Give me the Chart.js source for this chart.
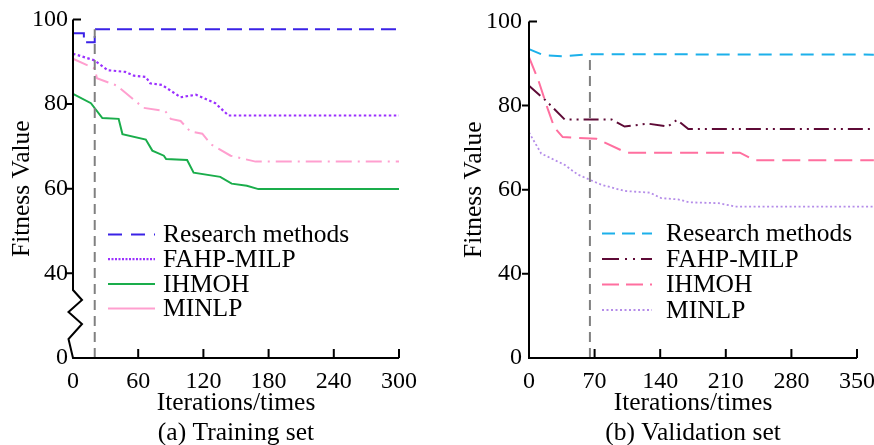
<!DOCTYPE html>
<html>
<head>
<meta charset="utf-8">
<script src="https://cdn.jsdelivr.net/npm/chart.js@4.4.1/dist/chart.umd.min.js"></script>
<style>
  html, body { margin: 0; padding: 0; background: #fff; overflow: hidden; }
  #wrap { position: relative; width: 874px; height: 445px; overflow: hidden; }
  canvas { position: absolute; top: 0; }
</style>
</head>
<body>
<div id="wrap">
  <canvas id="train" width="437" height="448" style="left:0"></canvas>
  <canvas id="valid" width="437" height="448" style="left:437px"></canvas>
</div>
<script>
// --- DATA: (a) Training set ---
const trainResearchX = [0, 10, 10, 20, 20, 300];
const trainResearchY = [96.7, 96.7, 94.6, 94.6, 97.7, 97.7];
const trainFahpX = [0, 20, 32, 48, 56, 67, 71, 82, 99, 113, 131, 143, 300];
const trainFahpY = [91.9, 90.3, 88.0, 87.6, 86.7, 86.4, 84.9, 84.5, 81.6, 82.2, 80.2, 77.3, 77.3];
const trainIhmohX = [0, 16.5, 27, 42, 45.5, 67, 73, 83.6, 85.7, 105, 111, 135.5, 146, 160, 170.6, 300];
const trainIhmohY = [82.4, 80.2, 76.7, 76.5, 72.9, 71.6, 69.0, 67.8, 67.0, 66.8, 63.8, 62.8, 61.2, 60.7, 59.9, 59.9];
const trainMinlpX = [0, 20, 22, 40, 65, 85, 90, 99, 108, 119, 127, 145, 168, 300];
const trainMinlpY = [90.7, 88.4, 86.1, 84.4, 79.1, 78.3, 76.5, 76.0, 73.5, 73.0, 70.5, 67.8, 66.4, 66.4];
const trainMarkX = [20, 20];
const trainMarkY = [20, 97.7];

// --- DATA: (b) Validation set ---
const validResearchX = [0, 15, 38, 63, 368];
const validResearchY = [93.4, 92.0, 91.7, 92.2, 92.1];
const validFahpX = [0, 17, 38, 88, 102, 127, 148, 158, 170, 368];
const validFahpY = [84.7, 81.4, 76.7, 76.7, 75.0, 75.7, 75.0, 76.6, 74.4, 74.4];
const validIhmohX = [0, 10, 20, 27, 36, 72, 104, 225, 241, 368];
const validIhmohY = [91.5, 86.0, 79.2, 74.8, 72.5, 72.1, 68.8, 68.8, 67.0, 67.0];
const validMinlpX = [0, 13, 38, 52, 77, 102, 129, 141, 159, 171, 202, 220, 368];
const validMinlpY = [73.6, 68.6, 65.9, 63.6, 61.2, 59.7, 59.3, 58.0, 57.7, 57.0, 56.8, 56.0, 56.0];
const validMarkX = [65, 65];
const validMarkY = [20, 92.1];

// --- LABELS ---
const seriesNames = ['Research methods', 'FAHP-MILP', 'IHMOH', 'MINLP'];
const yAxisTitle = 'Fitness Value';
const xAxisTitle = 'Iterations/times';
const trainCaption = '(a) Training set';
const validCaption = '(b) Validation set';
// the y axis is broken: the bottom step (20) is labelled 0
const yBreakValue = 20;
const yBreakLabel = '0';

const FONT = "'Liberation Serif', 'Times New Roman', serif";
const TEXT_SIZE = 25.5;

const pts = (xs, ys) => xs.map((x, i) => ({ x, y: ys[i] }));

const line = (label, xs, ys, color, dash, width, legendDash) => ({
  label, data: pts(xs, ys), borderColor: color, borderDash: dash,
  borderWidth: width || 2, pointRadius: 0, tension: 0, fill: false, clip: false,
  legendDash: legendDash || dash
});

function makePanel(id, p) {
  const deco = {
    id: 'deco',
    afterDraw(chart) {
      const { ctx, chartArea: a, scales: { x, y } } = chart;
      ctx.save();
      ctx.strokeStyle = '#000';
      ctx.lineWidth = 2;
      ctx.setLineDash([]);
      ctx.beginPath();
      ctx.moveTo(a.left, a.top);
      if (p.zigzag) {
        ctx.lineTo(a.left, a.bottom - 68);
        ctx.lineTo(a.left + 9, a.bottom - 58);
        ctx.lineTo(a.left - 4.5, a.bottom - 46);
        ctx.lineTo(a.left + 9, a.bottom - 34);
        ctx.lineTo(a.left - 4.5, a.bottom - 19);
      }
      ctx.lineTo(a.left, a.bottom);
      ctx.lineTo(a.right, a.bottom);
      // inward x ticks
      x.ticks.forEach(t => {
        if (t.value === 0) return;
        const px = x.getPixelForValue(t.value);
        ctx.moveTo(px, a.bottom);
        ctx.lineTo(px, a.bottom - 9);
      });
      // y ticks: top one inward, others outward
      y.ticks.forEach(t => {
        if (t.value === yBreakValue) return;
        const py = y.getPixelForValue(t.value);
        if (t.value === 100) { ctx.moveTo(a.left, py); ctx.lineTo(a.left + 8, py); }
        else { ctx.moveTo(a.left - 7, py); ctx.lineTo(a.left, py); }
      });
      ctx.stroke();

      // legend inside plot
      const L = p.legend;
      ctx.font = `${TEXT_SIZE}px ${FONT}`;
      ctx.textBaseline = 'middle';
      ctx.fillStyle = '#000';
      let row = 0;
      chart.data.datasets.forEach(ds => {
        if (!ds.label) return;
        const yy = L.y + row * L.step;
        ctx.strokeStyle = ds.borderColor;
        ctx.lineWidth = ds.borderWidth;
        ctx.setLineDash(ds.legendDash || []);
        ctx.beginPath();
        ctx.moveTo(L.x0, yy);
        ctx.lineTo(L.x1, yy);
        ctx.stroke();
        ctx.setLineDash([]);
        ctx.fillText(ds.label, L.tx, yy + 1);
        row++;
      });
      ctx.restore();
    }
  };

  return new Chart(document.getElementById(id).getContext('2d'), {
    type: 'line',
    data: { datasets: p.datasets },
    options: {
      responsive: false,
      animation: false,
      devicePixelRatio: 1,
      layout: { padding: { top: 15, right: p.padRight, left: 0, bottom: 0 } },
      plugins: { legend: { display: false }, tooltip: { enabled: false } },
      scales: {
        x: {
          type: 'linear', min: 0, max: p.xMax,
          grid: { display: false, drawTicks: false }, border: { display: false },
          ticks: { stepSize: p.xStep, autoSkip: false, maxRotation: 0, padding: 9,
                   color: '#000', font: { family: FONT, size: 24 } },
          title: { display: true, text: [xAxisTitle, p.caption], color: '#000',
                   font: { family: FONT, size: TEXT_SIZE, lineHeight: 1.18 }, padding: { top: 0, bottom: 0 } },
          afterFit: s => { s.height = 90; s.paddingLeft = 0; s.paddingRight = 0; }
        },
        y: {
          type: 'linear', min: 20, max: 100,
          grid: { display: false, drawTicks: false }, border: { display: false },
          ticks: { stepSize: 20, padding: p.yTickPad, color: '#000',
                   font: { family: FONT, size: 24 },
                   callback: v => (v === yBreakValue ? yBreakLabel : String(v)) },
          title: { display: true, text: yAxisTitle, color: '#000',
                   font: { family: FONT, size: TEXT_SIZE, lineHeight: 1.2 }, padding: { top: p.yTitlePad, bottom: 0 } },
          afterFit: s => { s.width = p.yWidth; }
        }
      }
    },
    plugins: [deco]
  });
}

makePanel('train', {
  xMax: 300, xStep: 60, caption: trainCaption,
  yWidth: 73, padRight: 38, yTickPad: 5, yTitlePad: 7, zigzag: true,
  legend: { x0: 108, x1: 155, tx: 163, y: 234.5, step: 24.7 },
  datasets: [
    line('', trainMarkX, trainMarkY, '#808080', [10, 6], 2),
    line(seriesNames[0], trainResearchX, trainResearchY, '#3a22e6', [15, 7], 2, [14, 9]),
    line(seriesNames[1], trainFahpX, trainFahpY, '#9b30ff', [2.5, 2.5], 2.2, [2, 1.5]),
    line(seriesNames[2], trainIhmohX, trainIhmohY, '#1aad4b', [], 2),
    line(seriesNames[3], trainMinlpX, trainMinlpY, '#ff9fcf', [16, 6, 2, 6], 2, [])
  ]
});

makePanel('valid', {
  xMax: 350, xStep: 70, caption: validCaption,
  yWidth: 92, padRight: 17, yTickPad: 7, yTitlePad: 22, zigzag: false,
  legend: { x0: 165, x1: 215, tx: 229, y: 233.5, step: 25.5 },
  datasets: [
    line('', validMarkX, validMarkY, '#808080', [10, 6], 2),
    line(seriesNames[0], validResearchX, validResearchY, '#1cb0ea', [13, 8], 2, [13, 7]),
    line(seriesNames[1], validFahpX, validFahpY, '#5e0a36', [15, 5, 2, 5, 2, 5], 2, [17, 6, 2, 6, 2, 6]),
    line(seriesNames[2], validIhmohX, validIhmohY, '#ff6f9f', [18, 8], 2, [17, 7]),
    line(seriesNames[3], validMinlpX, validMinlpY, '#b58de9', [2, 2.5], 1.8)
  ]
});
</script>
</body>
</html>
